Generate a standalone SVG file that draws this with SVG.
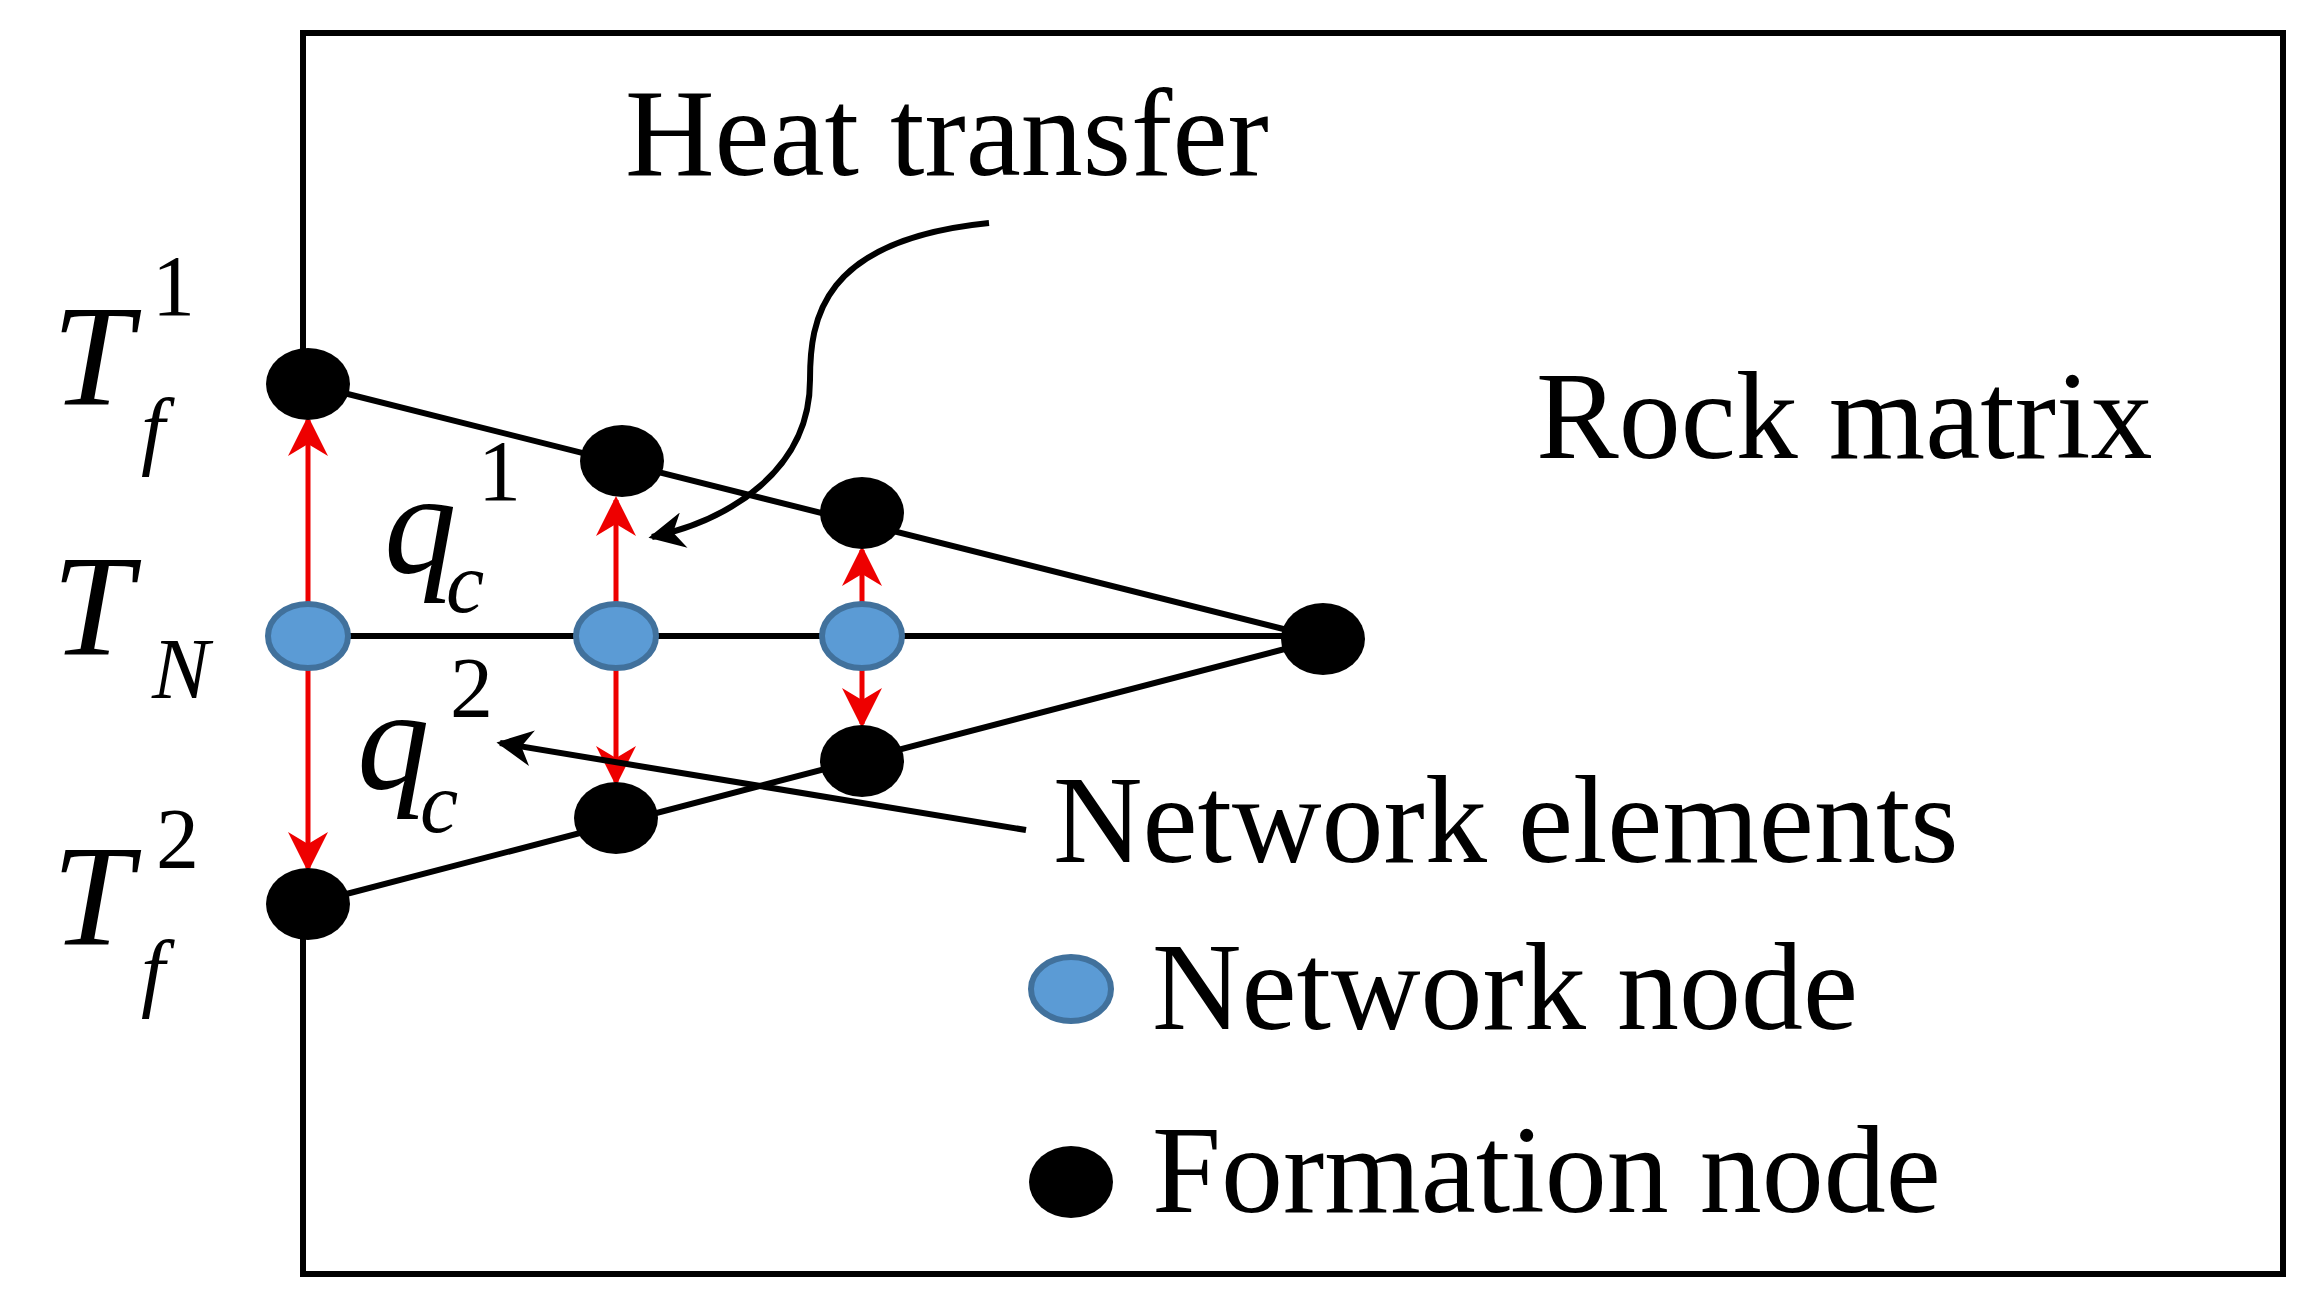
<svg xmlns="http://www.w3.org/2000/svg" width="2308" height="1315" viewBox="0 0 2308 1315">
<style>
.t{font-family:"Liberation Serif",serif;fill:#000}
.m{font-family:"Liberation Serif",serif;font-style:italic;fill:#000}
.ln{stroke:#000;stroke-width:6;fill:none}
.red{stroke:#e00;stroke-width:5;fill:none;marker-start:url(#ra);marker-end:url(#ra)}
.fn{fill:#000}
.nn{fill:#5b9bd5;stroke:#41719c;stroke-width:6}
</style>
<defs>
<marker id="ra" viewBox="0 0 10 10" refX="9" refY="5" markerWidth="46" markerHeight="40" orient="auto-start-reverse" markerUnits="userSpaceOnUse"><path d="M0,0 L10,5 L0,10 L3,5 z" fill="#e00"/></marker>
<marker id="ba" viewBox="0 0 10 10" refX="9" refY="5" markerWidth="46" markerHeight="36" orient="auto" markerUnits="userSpaceOnUse"><path d="M0,0 L10,5 L0,10 L3,5 z" fill="#000"/></marker>
</defs>
<rect width="2308" height="1315" fill="#fff"/>
<g id="frame">
<path class="ln" d="M303 384 V33 H2283 V1274 H303 V904"/>
</g>
<g id="connectors">
<path class="ln" d="M308 384 L1323 639 L308 904"/>
<path class="ln" d="M308 636 H1323"/>
<path class="red" d="M308 420 V868"/>
<path class="red" d="M616 500 V782"/>
<path class="red" d="M862 550 V724"/>
<path class="ln" d="M989 223 C820 240 810 320 810 380 C810 470 730 520 652 537" marker-end="url(#ba)"/>
<path class="ln" d="M1026 830 L500 743" marker-end="url(#ba)"/>
</g>
<g id="n1"><ellipse class="fn" cx="308" cy="384" rx="42" ry="36"/></g>
<g id="n2"><ellipse class="fn" cx="622" cy="461" rx="42" ry="36"/></g>
<g id="n3"><ellipse class="fn" cx="862" cy="513" rx="42" ry="36"/></g>
<g id="n4"><ellipse class="fn" cx="1323" cy="639" rx="42" ry="36"/></g>
<g id="n5"><ellipse class="nn" cx="308" cy="636" rx="40" ry="32"/></g>
<g id="n6"><ellipse class="nn" cx="616" cy="636" rx="40" ry="32"/></g>
<g id="n7"><ellipse class="nn" cx="862" cy="636" rx="40" ry="32"/></g>
<g id="n8"><ellipse class="fn" cx="862" cy="761" rx="42" ry="36"/></g>
<g id="n9"><ellipse class="fn" cx="616" cy="818" rx="42" ry="36"/></g>
<g id="n10"><ellipse class="fn" cx="308" cy="904" rx="42" ry="36"/></g>
<g id="legend">
<ellipse class="nn" cx="1071" cy="989" rx="40" ry="32"/>
<ellipse class="fn" cx="1071" cy="1182" rx="42" ry="36"/>
<text class="t" x="1152" y="1029" font-size="124">Network node</text>
<text class="t" x="1152" y="1212" font-size="124">Formation node</text>
</g>
<g id="labels">
<text class="t" x="625" y="175" font-size="124">Heat transfer</text>
<text class="t" x="1536" y="458" font-size="124">Rock matrix</text>
<text class="t" x="1053" y="862" font-size="124">Network elements</text>
<text class="m" x="52" y="404" font-size="145">T</text>
<text class="t" x="152" y="315" font-size="86">1</text>
<text class="m" x="141" y="458" font-size="86">f</text>
<text class="m" x="52" y="654" font-size="145">T</text>
<text class="m" x="152" y="698" font-size="86">N</text>
<text class="m" x="52" y="944" font-size="145">T</text>
<text class="t" x="156" y="868" font-size="86">2</text>
<text class="m" x="141" y="1000" font-size="86">f</text>
<text class="m" x="384" y="572" font-size="145">q</text>
<text class="t" x="478" y="500" font-size="86">1</text>
<text class="m" x="446" y="612" font-size="86">c</text>
<text class="m" x="357" y="788" font-size="145">q</text>
<text class="t" x="450" y="717" font-size="86">2</text>
<text class="m" x="420" y="832" font-size="86">c</text>
</g>
</svg>
